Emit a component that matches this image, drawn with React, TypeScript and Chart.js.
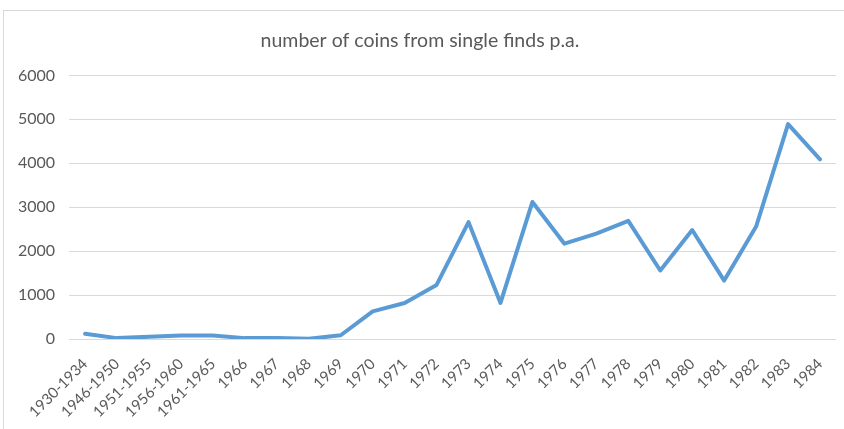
import React, { useEffect, useRef } from "react";
import { Chart, registerables } from "chart.js";

Chart.register(...registerables);

const categories = [
  "1930-1934", "1946-1950", "1951-1955", "1956-1960", "1961-1965",
  "1966", "1967", "1968", "1969", "1970", "1971", "1972", "1973", "1974",
  "1975", "1976", "1977", "1978", "1979", "1980", "1981", "1982", "1983", "1984",
];

const coins = [
  120, 20, 50, 80, 80,
  20, 20, 5, 85, 630, 820, 1230, 2660, 820,
  3120, 2170, 2400, 2690, 1560, 2480, 1330, 2560, 4890, 4090,
];

const yTicksMax = 6000;
const yTickStep = 1000;
const titleText = "number of coins from single finds p.a.";

export default function App() {
  const ref = useRef<HTMLCanvasElement | null>(null);

  useEffect(() => {
    if (!ref.current) return;
    const chart = new Chart(ref.current, {
      type: "line",
      data: {
        labels: categories,
        datasets: [
          {
            label: "coins",
            data: coins,
            borderColor: "#5B9BD5",
            backgroundColor: "#5B9BD5",
            borderWidth: 4,
            pointRadius: 0,
            tension: 0,
            borderJoinStyle: "round",
            borderCapStyle: "round",
          },
        ],
      },
      options: {
        animation: false,
        responsive: false,
        maintainAspectRatio: false,
        layout: { padding: { left: 4, right: 8, top: 20, bottom: 0 } },
        plugins: {
          legend: { display: false },
          tooltip: { enabled: false },
          title: {
            display: true,
            text: titleText,
            color: "#595959",
            font: { family: "Lato", size: 19.5, weight: "normal" },
            padding: { top: 9, bottom: 23 },
          },
        },
        scales: {
          x: {
            offset: true,
            grid: { display: false, drawTicks: false },
            border: { display: false },
            afterFit: (scale: any) => {
              scale.height = 90;
              scale.paddingRight = 0;
            },
            ticks: {
              autoSkip: false,
              maxRotation: 45,
              minRotation: 45,
              color: "#595959",
              padding: 16,
              font: { family: "Lato", size: 15 },
            },
          },
          y: {
            min: 0,
            max: yTicksMax,
            grid: { color: "#d9d9d9", lineWidth: 1, drawTicks: false },
            border: { display: false },
            ticks: {
              stepSize: yTickStep,
              color: "#595959",
              padding: 14,
              font: { family: "Lato", size: 16 },
              callback: (v: any) => String(v),
            },
          },
        },
      },
    });
    return () => chart.destroy();
  }, []);

  return (
    <div style={{ position: "fixed", left: 0, top: 0, width: 844, height: 429, background: "#fff", overflow: "hidden" }}>
      <div
        style={{
          position: "absolute",
          left: 3,
          top: 10,
          width: 860,
          height: 440,
          border: "1px solid #d9d9d9",
          boxSizing: "border-box",
        }}
      />
      <canvas ref={ref} width={844} height={429} style={{ position: "absolute", left: 0, top: 0 }} />
    </div>
  );
}
